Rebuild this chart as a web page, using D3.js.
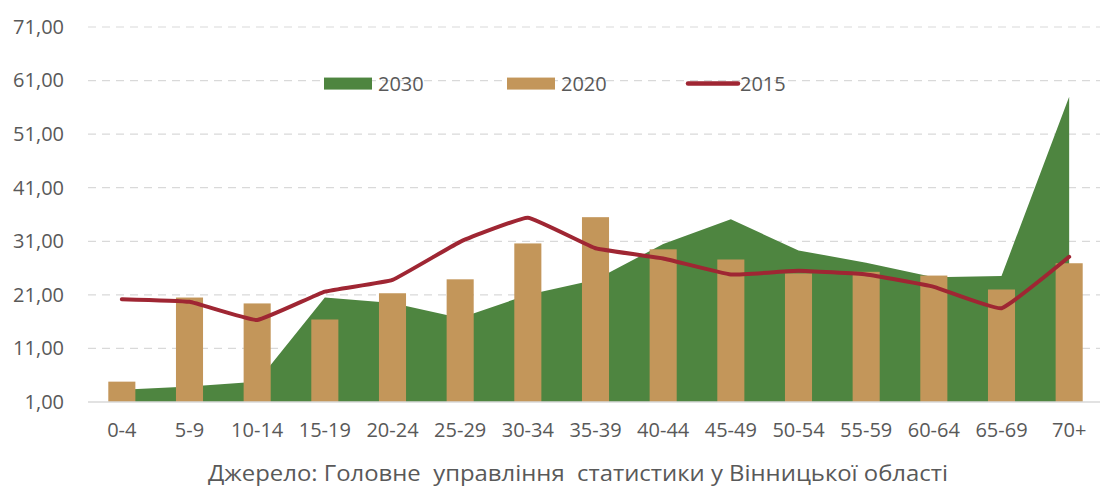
<!DOCTYPE html>
<html lang="uk">
<head>
  <meta charset="UTF-8">
  <title>Вікова структура населення</title>
  <script src="https://d3js.org/d3.v7.min.js"></script>
  <style>
    * { margin: 0; padding: 0; box-sizing: border-box; }
    body { background: #fff; font-family: 'Open Sans', sans-serif; }
    svg { display: block; }
  </style>
</head>
<body>
  <div id="chart"></div>
  <script>
    // data
    const ageGroups = ["0-4", "5-9", "10-14", "15-19", "20-24", "25-29", "30-34", "35-39",
                       "40-44", "45-49", "50-54", "55-59", "60-64", "65-69", "70+"];
    const values2030 = [3.3, 3.9, 4.8, 20.5, 19.5, 16.7, 21.0, 23.8, 30.5, 35.1, 29.3, 27.0, 24.3, 24.5, 58.0];
    const values2020 = [4.8, 20.5, 19.4, 16.4, 21.3, 23.9, 30.6, 35.5, 29.5, 27.6, 25.0, 25.3, 24.6, 22.0, 26.9];
    const values2015 = [20.2, 19.7, 16.3, 21.6, 23.8, 30.9, 35.4, 29.7, 27.8, 24.8, 25.5, 24.8, 22.5, 18.5, 28.1];
    const yTicks = [1, 11, 21, 31, 41, 51, 61, 71];
    const legendItems = [
      { label: "2030", type: "rect", color: "#4e8540" },
      { label: "2020", type: "rect", color: "#c3965a" },
      { label: "2015", type: "line", color: "#9f2633" }
    ];
    const sourceText = "Джерело: Головне  управління  статистики у Вінницької області";

    const width = 1100, height = 493;
    const textColor = "#595959";

    const svg = d3.select("#chart").append("svg")
      .attr("width", width)
      .attr("height", height);

    const x = d3.scaleBand()
      .domain(ageGroups)
      .range([88, 1103]);

    const y = d3.scaleLinear()
      .domain([1, 71])
      .range([402, 27]);

    const cx = d => x(d) + x.bandwidth() / 2;

    // gridlines
    svg.append("g")
      .selectAll("line")
      .data(yTicks.filter(t => t !== 1))
      .enter().append("line")
      .attr("x1", 88)
      .attr("x2", width)
      .attr("y1", d => y(d))
      .attr("y2", d => y(d))
      .attr("stroke", "#d9d9d9")
      .attr("stroke-width", 1.2)
      .attr("stroke-dasharray", "8,6");

    // y axis labels
    const yAxis = svg.append("g")
      .attr("transform", "translate(64,0)")
      .call(d3.axisLeft(y).tickValues(yTicks).tickSize(0).tickPadding(0)
        .tickFormat(d => d3.format(".2f")(d).replace(".", ",")));
    yAxis.select(".domain").remove();
    yAxis.selectAll("text")
      .attr("fill", textColor)
      .style("font-family", "'Open Sans', sans-serif")
      .style("font-size", "20px");

    // 2030 area
    const area = d3.area()
      .x((d, i) => cx(ageGroups[i]))
      .y0(y(1))
      .y1(d => y(d));

    svg.append("path")
      .datum(values2030)
      .attr("fill", "#4e8540")
      .attr("d", area);

    // 2020 bars
    const barW = x.bandwidth() * 0.4;
    svg.append("g")
      .selectAll("rect")
      .data(values2020)
      .enter().append("rect")
      .attr("x", (d, i) => cx(ageGroups[i]) - barW / 2)
      .attr("y", d => y(d))
      .attr("width", barW)
      .attr("height", d => y(1) - y(d))
      .attr("fill", "#c3965a");

    // 2015 line, lightly smoothed like Excel
    const line = d3.line()
      .x((d, i) => cx(ageGroups[i]))
      .y(d => y(d))
      .curve(d3.curveCardinal.tension(0.7));

    svg.append("path")
      .datum(values2015)
      .attr("fill", "none")
      .attr("stroke", "#9f2633")
      .attr("stroke-width", 4)
      .attr("stroke-linejoin", "round")
      .attr("stroke-linecap", "round")
      .attr("d", line);

    // x axis
    const xAxis = svg.append("g")
      .attr("transform", `translate(0,${y(1)})`)
      .call(d3.axisBottom(x).tickSize(0).tickPadding(21));
    xAxis.select(".domain")
      .attr("d", `M88,0H${width}`)
      .attr("stroke", "#d9d9d9")
      .attr("stroke-width", 1.5);
    xAxis.selectAll("text")
      .attr("fill", textColor)
      .style("font-family", "'Open Sans', sans-serif")
      .style("font-size", "20px");

    // legend
    const legendX = [324, 507, 686];
    const legend = svg.append("g");
    legendItems.forEach((item, i) => {
      const g = legend.append("g").attr("transform", `translate(${legendX[i]},${y(61)})`);
      if (item.type === "rect") {
        g.append("rect")
          .attr("x", 0).attr("y", -3)
          .attr("width", 48).attr("height", 12)
          .attr("fill", item.color);
      } else {
        g.append("line")
          .attr("x1", 2).attr("x2", 52)
          .attr("y1", 3).attr("y2", 3)
          .attr("stroke", item.color)
          .attr("stroke-width", 4.5)
          .attr("stroke-linecap", "round");
      }
      g.append("text")
        .attr("x", 54)
        .attr("y", 3)
        .attr("dy", "0.35em")
        .attr("fill", textColor)
        .style("font-size", "20px")
        .text(item.label);
    });

    // source note
    svg.append("text")
      .attr("x", 208)
      .attr("y", 481)
      .attr("fill", textColor)
      .attr("textLength", 740)
      .attr("lengthAdjust", "spacingAndGlyphs")
      .style("font-size", "22px")
      .style("white-space", "pre")
      .text(sourceText);
  </script>
</body>
</html>
